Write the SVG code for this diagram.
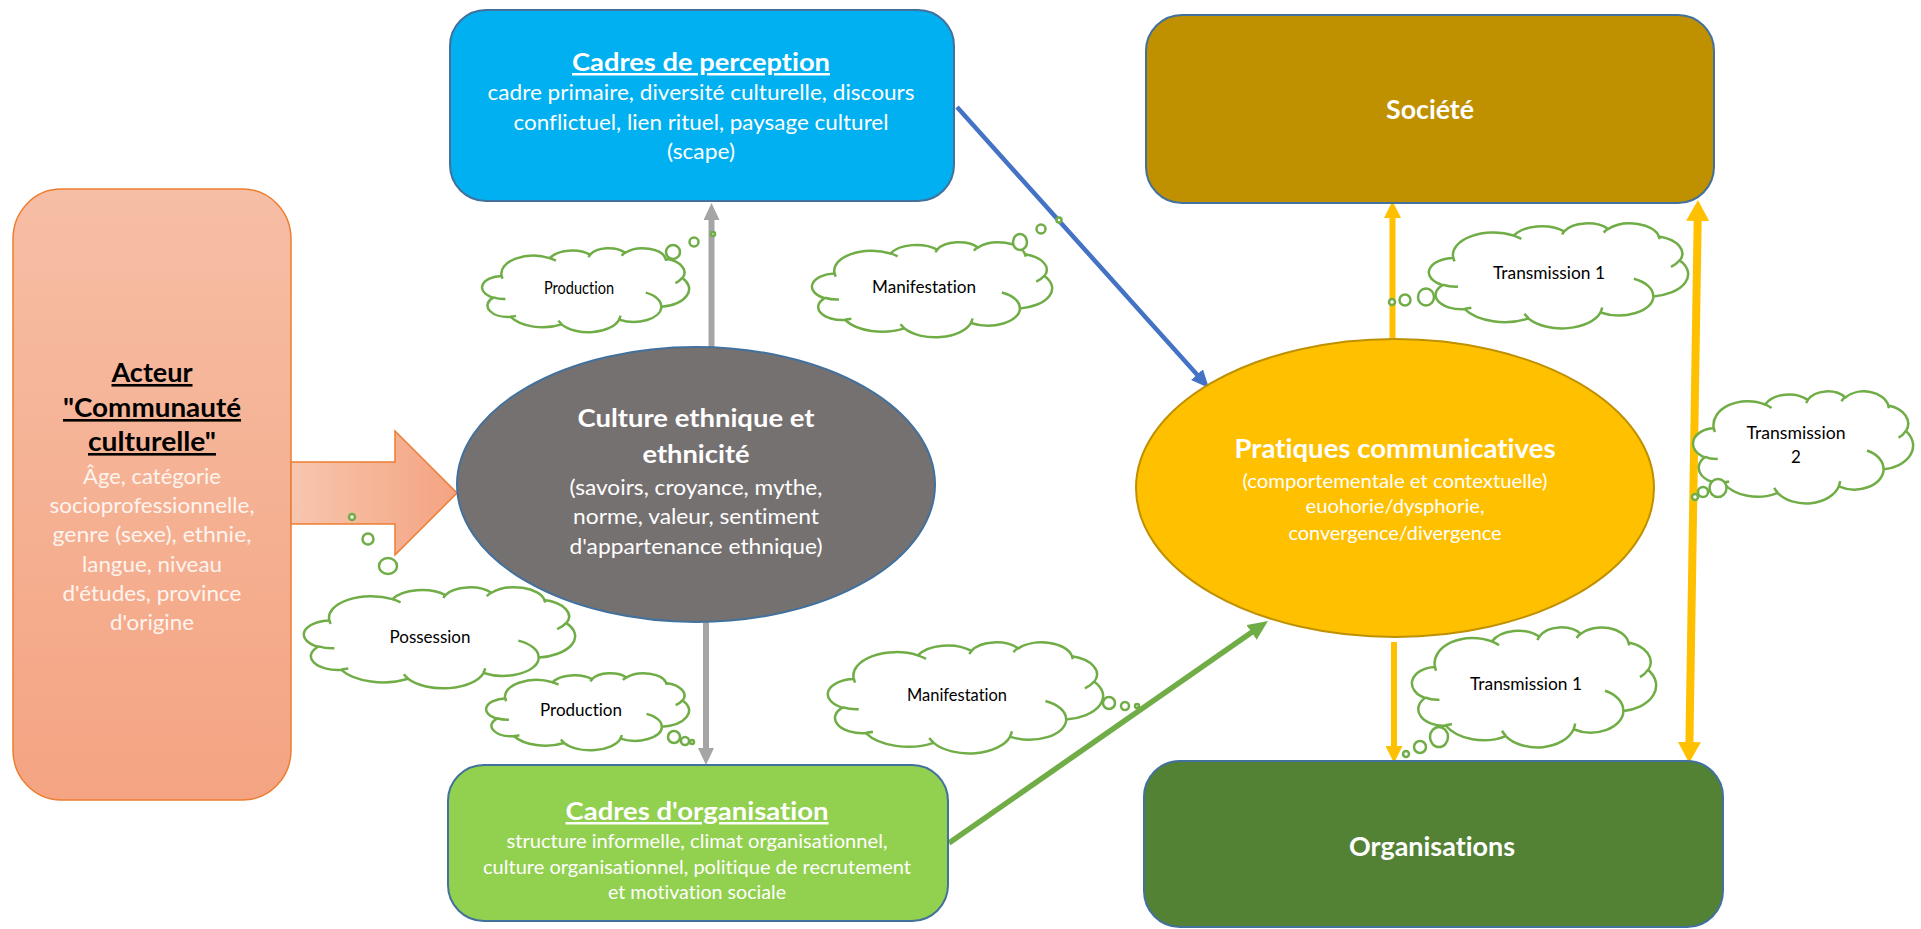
<svg xmlns="http://www.w3.org/2000/svg" xmlns:xlink="http://www.w3.org/1999/xlink" width="1921" height="929" viewBox="0 0 1921 929">
<style>
text{font-family:Lato,"Open Sans","Liberation Sans",sans-serif;text-anchor:middle;font-variant-ligatures:none}
.hd{font-weight:700}
.ul{text-decoration:underline}
.w{fill:#fff}
.lbl{fill:#000;font-size:17px}
.box{stroke:#41719c;stroke-width:2}
.cl{fill:#fff;stroke:#70ad47;stroke-width:2.5;vector-effect:non-scaling-stroke}
.cr{fill:none;stroke:#70ad47;stroke-width:2.5;vector-effect:non-scaling-stroke}
.bub{fill:#fff;stroke:#70ad47;stroke-width:2.5}
.ln{fill:none}
</style>
<defs>
<linearGradient id="gAct" x1="0" y1="0" x2="0" y2="1"><stop offset="0" stop-color="#f6bea5"/><stop offset="1" stop-color="#f4a482"/></linearGradient>
<linearGradient id="gArr" x1="0" y1="0" x2="1" y2="0"><stop offset="0" stop-color="#f7c6ae"/><stop offset="1" stop-color="#f4a381"/></linearGradient>
<marker id="mGray" markerUnits="userSpaceOnUse" viewBox="0 0 17 16" markerWidth="17" markerHeight="16" refX="2" refY="8" orient="auto"><path d="M0,0 L17,8 L0,16 z" fill="#a5a5a5"/></marker>
<marker id="mBlue" markerUnits="userSpaceOnUse" viewBox="0 0 18 16" markerWidth="18" markerHeight="16" refX="2" refY="8" orient="auto"><path d="M0,0 L18,8 L0,16 z" fill="#4472c4"/></marker>
<marker id="mGreen" markerUnits="userSpaceOnUse" viewBox="0 0 20 18" markerWidth="20" markerHeight="18" refX="2" refY="9" orient="auto"><path d="M0,0 L20,9 L0,18 z" fill="#70ad47"/></marker>
<marker id="mYel" markerUnits="userSpaceOnUse" viewBox="0 0 17 17" markerWidth="17" markerHeight="17" refX="2" refY="8.5" orient="auto"><path d="M0,0 L17,8.5 L0,17 z" fill="#ffc000"/></marker>
<marker id="mYelB" markerUnits="userSpaceOnUse" viewBox="0 0 21 23" markerWidth="21" markerHeight="23" refX="2" refY="11.5" orient="auto-start-reverse"><path d="M0,0 L21,11.5 L0,23 z" fill="#ffc000"/></marker>
<g id="cloud">
<path class="cl" d="M9.03,33.26 A15.63,21.27 0 0 1 32.42,12.04 A12.34,16.82 0 0 1 51.99,7.94 A10.10,13.76 0 0 1 69.06,5.73 A11.24,15.27 0 0 1 88.70,12.90 A12.34,16.84 0 0 1 96.81,35.78 A15.68,21.34 0 0 1 86.59,69.91 A13.39,18.21 0 0 1 66.11,85.21 A15.63,21.33 0 0 1 38.16,90.88 A17.87,24.41 0 0 1 13.44,82.10 A10.09,13.70 0 0 1 4.89,59.14 A10.06,13.76 0 0 1 9.03,33.26 Z"/>
<path class="cr" d="M10.86,60.59 A10.06,13.76 0 0 1 5.00,58.75 M16.04,80.78 A10.09,13.70 0 0 1 13.47,81.67 M38.14,90.49 A15.63,21.33 0 0 1 36.60,86.46 M66.73,80.44 A15.63,21.33 0 0 1 66.11,84.86 M79.00,53.13 A13.39,18.21 0 0 1 86.53,69.65 M96.75,35.54 A12.34,16.84 0 0 1 93.40,41.73 M88.71,12.56 A11.24,15.27 0 0 1 88.89,15.49 M67.31,9.15 A11.24,15.27 0 0 1 69.03,5.42 M51.25,10.93 A10.10,13.76 0 0 1 52.08,7.71 M32.41,12.02 A15.63,21.27 0 0 1 35.41,15.14 M9.55,36.55 A15.63,21.27 0 0 1 9.03,33.26"/>
</g>
</defs>
<rect width="1921" height="929" fill="#fff"/>

<g id="acteur">
<rect x="13" y="189" width="278" height="611" rx="48" ry="50" fill="url(#gAct)" stroke="#ed7d31" stroke-width="1.5"/>
<text class="hd ul" x="152" y="382" font-size="26" textLength="81" lengthAdjust="spacingAndGlyphs">Acteur</text>
<text class="hd ul" x="152" y="417" font-size="26" textLength="178" lengthAdjust="spacingAndGlyphs">"Communauté</text>
<text class="hd ul" x="152" y="451" font-size="26" textLength="128" lengthAdjust="spacingAndGlyphs">culturelle"</text>
<g fill="#fef4ee" font-size="21">
<text x="152" y="484" textLength="138" lengthAdjust="spacingAndGlyphs">Âge, catégorie</text>
<text x="152" y="513" textLength="205" lengthAdjust="spacingAndGlyphs">socioprofessionnelle,</text>
<text x="152" y="542" textLength="199" lengthAdjust="spacingAndGlyphs">genre (sexe), ethnie,</text>
<text x="152" y="572" textLength="140" lengthAdjust="spacingAndGlyphs">langue, niveau</text>
<text x="152" y="601" textLength="179" lengthAdjust="spacingAndGlyphs">d'études, province</text>
<text x="152" y="630" textLength="84" lengthAdjust="spacingAndGlyphs">d'origine</text>
</g>
</g>

<g id="connectors">
<polygon id="arrow-acteur" points="291,462 395,462 395,431 457,493 395,555 395,524 291,524" fill="url(#gArr)" stroke="#ed7d31" stroke-width="1.5"/>
<path id="c-culture-perception" class="ln" d="M711.5,347 L711.5,218" stroke="#a5a5a5" stroke-width="6" marker-end="url(#mGray)"/>
<path id="c-culture-organisation" class="ln" d="M706,618 L706,750" stroke="#a5a5a5" stroke-width="6" marker-end="url(#mGray)"/>
<path id="c-perception-pratiques" class="ln" d="M957,107 L1198.3,376.1" stroke="#4472c4" stroke-width="4.5" marker-end="url(#mBlue)"/>
<path id="c-organisation-pratiques" class="ln" d="M949,843 L1253.2,631.3" stroke="#70ad47" stroke-width="5.5" marker-end="url(#mGreen)"/>
<path id="c-pratiques-societe" class="ln" d="M1392.5,340 L1392.5,216" stroke="#ffc000" stroke-width="6" marker-end="url(#mYel)"/>
<path id="c-pratiques-organisations" class="ln" d="M1394,642 L1394,748" stroke="#ffc000" stroke-width="6" marker-end="url(#mYel)"/>
<path id="c-societe-organisations" class="ln" d="M1697.7,219 L1689.4,744" stroke="#ffc000" stroke-width="8" marker-start="url(#mYelB)" marker-end="url(#mYelB)"/>
</g>

<g id="perception">
<rect class="box" x="450" y="10" width="504" height="191" rx="36" fill="#00b0f0"/>
<text class="hd ul w" x="701" y="71" font-size="25" textLength="258" lengthAdjust="spacingAndGlyphs">Cadres de perception</text>
<g class="w" font-size="21">
<text x="701" y="100" textLength="427" lengthAdjust="spacingAndGlyphs">cadre primaire, diversité culturelle, discours</text>
<text x="701" y="130" textLength="375" lengthAdjust="spacingAndGlyphs">conflictuel, lien rituel, paysage culturel</text>
<text x="701" y="159" textLength="68" lengthAdjust="spacingAndGlyphs">(scape)</text>
</g>
</g>

<g id="culture">
<ellipse cx="696" cy="484.5" rx="239" ry="137.5" fill="#767171" stroke="#41719c" stroke-width="2"/>
<text class="hd w" x="696" y="427" font-size="25" textLength="237" lengthAdjust="spacingAndGlyphs">Culture ethnique et</text>
<text class="hd w" x="696" y="463" font-size="25" textLength="107" lengthAdjust="spacingAndGlyphs">ethnicité</text>
<g class="w" font-size="21">
<text x="696" y="495" textLength="253" lengthAdjust="spacingAndGlyphs">(savoirs, croyance, mythe,</text>
<text x="696" y="524" textLength="246" lengthAdjust="spacingAndGlyphs">norme, valeur, sentiment</text>
<text x="696" y="554" textLength="253" lengthAdjust="spacingAndGlyphs">d'appartenance ethnique)</text>
</g>
</g>

<g id="organisation">
<rect class="box" x="448" y="765" width="500" height="156" rx="36" fill="#92d050"/>
<text class="hd ul w" x="697" y="820" font-size="25" textLength="263" lengthAdjust="spacingAndGlyphs">Cadres d'organisation</text>
<g class="w" font-size="20">
<text x="697" y="848" textLength="381" lengthAdjust="spacingAndGlyphs">structure informelle, climat organisationnel,</text>
<text x="697" y="874" textLength="428" lengthAdjust="spacingAndGlyphs">culture organisationnel, politique de recrutement</text>
<text x="697" y="899" textLength="178" lengthAdjust="spacingAndGlyphs">et motivation sociale</text>
</g>
</g>

<g id="pratiques">
<ellipse cx="1395" cy="488" rx="259" ry="149" fill="#ffc000" stroke="#bf9000" stroke-width="2"/>
<text class="hd w" x="1395" y="458" font-size="27" textLength="321" lengthAdjust="spacingAndGlyphs">Pratiques communicatives</text>
<g class="w" font-size="20">
<text x="1395" y="488" textLength="305" lengthAdjust="spacingAndGlyphs">(comportementale et contextuelle)</text>
<text x="1395" y="513" textLength="179" lengthAdjust="spacingAndGlyphs">euohorie/dysphorie,</text>
<text x="1395" y="540" textLength="213" lengthAdjust="spacingAndGlyphs">convergence/divergence</text>
</g>
</g>

<g id="societe">
<rect class="box" x="1146" y="15" width="568" height="188" rx="36" fill="#bf9000"/>
<text class="hd w" x="1430" y="119" font-size="27" textLength="88" lengthAdjust="spacingAndGlyphs">Société</text>
</g>

<g id="organisations">
<rect class="box" x="1144" y="761" width="579" height="166" rx="36" fill="#548235"/>
<text class="hd w" x="1432" y="856" font-size="27" textLength="166" lengthAdjust="spacingAndGlyphs">Organisations</text>
</g>

<g id="cloud-production-1">
<use xlink:href="#cloud" href="#cloud" transform="translate(483,248) scale(2.06,0.84)"/>
<circle class="bub" cx="673" cy="252" r="7"/>
<circle class="bub" cx="694" cy="242" r="4.5"/>
<circle class="bub" cx="713" cy="234" r="2"/>
<text class="lbl" x="579" y="294" font-size="14" textLength="70" lengthAdjust="spacingAndGlyphs">Production</text>
</g>

<g id="cloud-manifestation-1">
<use xlink:href="#cloud" href="#cloud" transform="translate(813,242) scale(2.39,0.95)"/>
<ellipse class="bub" cx="1020" cy="242" rx="7" ry="8"/>
<circle class="bub" cx="1041" cy="229" r="4.5"/>
<circle class="bub" cx="1059" cy="220" r="2.5"/>
<text class="lbl" x="924" y="293" textLength="104" lengthAdjust="spacingAndGlyphs">Manifestation</text>
</g>

<g id="cloud-possession">
<use xlink:href="#cloud" href="#cloud" transform="translate(305,587) scale(2.70,1.01)"/>
<circle class="bub" cx="352" cy="517" r="3"/>
<circle class="bub" cx="368" cy="539" r="5.5"/>
<ellipse class="bub" cx="388" cy="566" rx="9" ry="8"/>
<text class="lbl" x="430" y="643" textLength="81" lengthAdjust="spacingAndGlyphs">Possession</text>
</g>

<g id="cloud-production-2">
<use xlink:href="#cloud" href="#cloud" transform="translate(487,673) scale(2.02,0.77)"/>
<circle class="bub" cx="674" cy="737" r="6"/>
<circle class="bub" cx="685" cy="741" r="4"/>
<circle class="bub" cx="692" cy="742" r="2"/>
<text class="lbl" x="581" y="716" textLength="82" lengthAdjust="spacingAndGlyphs">Production</text>
</g>

<g id="cloud-manifestation-2">
<use xlink:href="#cloud" href="#cloud" transform="translate(829,642) scale(2.74,1.11)"/>
<circle class="bub" cx="1109" cy="703" r="6"/>
<circle class="bub" cx="1125" cy="706" r="4"/>
<circle class="bub" cx="1137" cy="706" r="2"/>
<text class="lbl" x="957" y="701" textLength="100" lengthAdjust="spacingAndGlyphs">Manifestation</text>
</g>

<g id="cloud-transmission-1a">
<use xlink:href="#cloud" href="#cloud" transform="translate(1430,223) scale(2.58,1.05)"/>
<ellipse class="bub" cx="1426" cy="297" rx="8" ry="8.5"/>
<circle class="bub" cx="1405" cy="300" r="5.5"/>
<circle class="bub" cx="1392" cy="302" r="3"/>
<text class="lbl" x="1549" y="279" textLength="112" lengthAdjust="spacingAndGlyphs">Transmission 1</text>
</g>

<g id="cloud-transmission-2">
<use xlink:href="#cloud" href="#cloud" transform="translate(1694,391) scale(2.19,1.12)"/>
<ellipse class="bub" cx="1718" cy="488" rx="8.5" ry="9"/>
<circle class="bub" cx="1703" cy="492" r="5"/>
<circle class="bub" cx="1695" cy="497" r="3"/>
<text class="lbl" x="1796" y="439" textLength="99" lengthAdjust="spacingAndGlyphs">Transmission</text>
<text class="lbl" x="1796" y="463">2</text>
</g>

<g id="cloud-transmission-1b">
<use xlink:href="#cloud" href="#cloud" transform="translate(1413,627) scale(2.43,1.20)"/>
<ellipse class="bub" cx="1439" cy="737" rx="9" ry="10"/>
<circle class="bub" cx="1420" cy="747" r="6"/>
<circle class="bub" cx="1406" cy="754" r="3"/>
<text class="lbl" x="1526" y="690" textLength="112" lengthAdjust="spacingAndGlyphs">Transmission 1</text>
</g>
</svg>
